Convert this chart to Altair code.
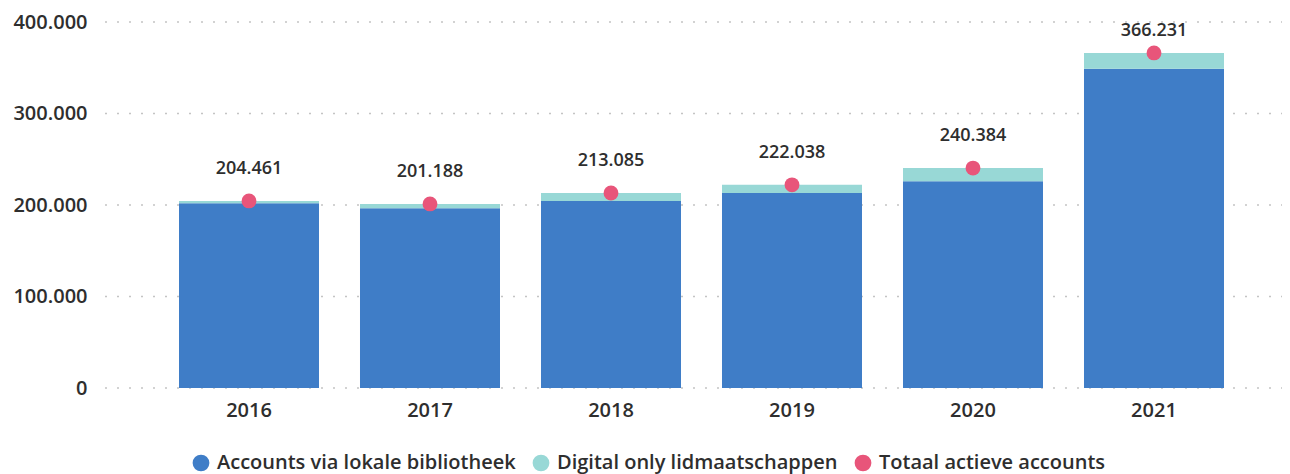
import altair as alt
import pandas as pd

jaren = ["2016", "2017", "2018", "2019", "2020", "2021"]
lokaal = [202000, 196500, 204500, 213000, 226000, 349000]
digitaal = [2500, 4700, 8600, 9000, 14400, 17200]
totaal = [204461, 201188, 213085, 222038, 240384, 366231]
y_ticks = [0, 100000, 200000, 300000, 400000]

series = ["Accounts via lokale bibliotheek", "Digital only lidmaatschappen", "Totaal actieve accounts"]
kleuren = ["#3F7DC7", "#98D8D6", "#E8557A"]

rows = []
for j, l, d in zip(jaren, lokaal, digitaal):
    rows.append({"jaar": j, "serie": series[0], "waarde": l, "ord": 0})
    rows.append({"jaar": j, "serie": series[1], "waarde": d, "ord": 1})
bars_df = pd.DataFrame(rows)
tot_df = pd.DataFrame({"jaar": jaren, "totaal": totaal, "serie": series[2]})
grid_df = pd.DataFrame({"v": y_ticks})

FONT = "Open Sans"
TXT = "#2e2e2e"
WEIGHT = 600
W, H = 1177, 366

color = alt.Color(
    "serie:N",
    scale=alt.Scale(domain=series, range=kleuren),
    legend=alt.Legend(
        title=None,
        orient="none",
        direction="horizontal",
        legendX=86,
        legendY=431,
        symbolType="circle",
        symbolSize=280,
        symbolStrokeWidth=0,
        symbolOpacity=1,
        labelFont=FONT,
        labelFontSize=20,
        labelFontWeight=WEIGHT,
        labelColor=TXT,
        labelOffset=6,
        columnPadding=15,
        labelLimit=500,
    ),
)

x = alt.X(
    "jaar:N",
    sort=jaren,
    scale=alt.Scale(range=[74, 1119], paddingInner=0.2265, paddingOuter=0),
    axis=alt.Axis(
        title=None,
        labelAngle=0,
        domain=False,
        ticks=False,
        labelFont=FONT,
        labelFontSize=20,
        labelFontWeight=WEIGHT,
        labelColor=TXT,
        labelPadding=12,
    ),
)

yscale = alt.Scale(domain=[0, 400000], nice=False)
yaxis = alt.Axis(
    title=None,
    values=y_ticks,
    labelExpr="replace(format(datum.value, ','), ',', '.')",
    domain=False,
    ticks=False,
    grid=False,
    labelFont=FONT,
    labelFontSize=20,
    labelFontWeight=WEIGHT,
    labelColor=TXT,
    labelPadding=18,
)

grid = alt.Chart(grid_df).mark_rule(
    color="#c4c4c4", strokeDash=[2, 10], strokeWidth=1.5
).encode(
    y=alt.Y("v:Q", scale=yscale, axis=yaxis, title=None),
    x=alt.value(0),
    x2=alt.value(W),
)

bars = alt.Chart(bars_df).mark_bar().encode(
    x=x,
    y=alt.Y("waarde:Q", stack="zero", scale=yscale, axis=yaxis, title=None),
    color=color,
    order=alt.Order("ord:Q"),
)

points = alt.Chart(tot_df).mark_point(filled=True, size=220, opacity=1).encode(
    x=alt.X("jaar:N", sort=jaren),
    y=alt.Y("totaal:Q", scale=yscale, axis=yaxis, title=None),
    color=alt.Color("serie:N"),
)

base_lbl = alt.Chart(tot_df).transform_calculate(
    lbl="replace(format(datum.totaal, ','), ',', '.')"
)
enc = dict(
    x=alt.X("jaar:N", sort=jaren),
    y=alt.Y("totaal:Q", scale=yscale, axis=yaxis, title=None),
    text="lbl:N",
)
labels_main = base_lbl.transform_filter("datum.jaar != '2021'").mark_text(
    font=FONT, fontSize=18, fontWeight=WEIGHT, color=TXT, baseline="middle", dy=-32
).encode(**enc)
labels_top = base_lbl.transform_filter("datum.jaar == '2021'").mark_text(
    font=FONT, fontSize=18, fontWeight=WEIGHT, color=TXT, baseline="middle", dy=-22
).encode(**enc)

chart = alt.layer(grid, bars, points, labels_main, labels_top).properties(
    width=W,
    height=H,
    autosize=alt.AutoSizeParams(type="none"),
    padding={"left": 97, "top": 14, "right": 0, "bottom": 86},
    background="white",
).configure_view(stroke=None)

chart.save("out.html", embed_options={"renderer": "svg", "actions": False})
